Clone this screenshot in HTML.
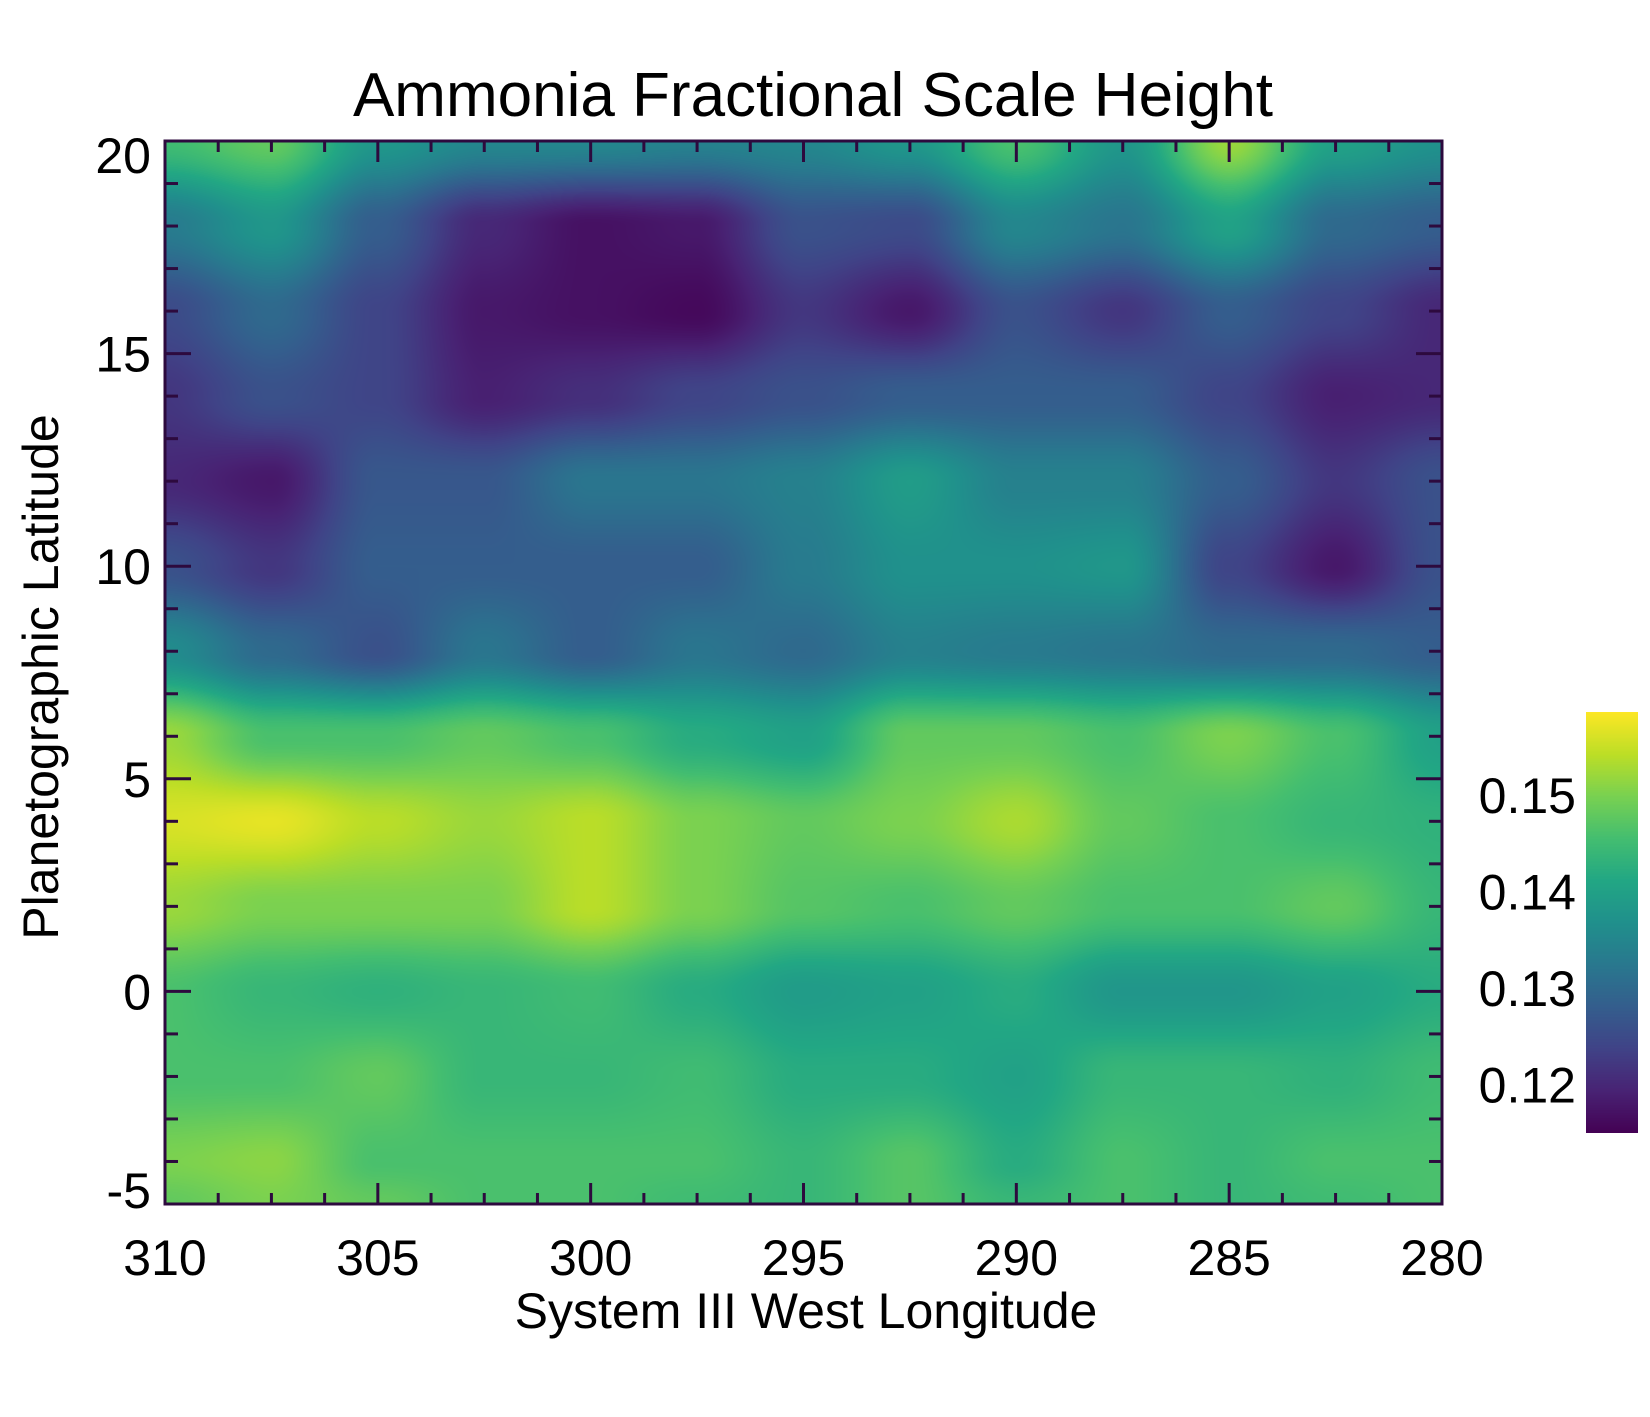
<!DOCTYPE html>
<html><head><meta charset="utf-8"><style>
html,body{margin:0;padding:0;background:#fff;width:1650px;height:1417px;overflow:hidden}
#wrap{position:relative;width:1650px;height:1417px}
canvas{position:absolute}
svg{position:absolute;left:0;top:0}
text{font-family:"Liberation Sans",sans-serif;fill:#000}
</style></head><body>
<div id="wrap">
<canvas id="heat"></canvas>
<canvas id="cbar"></canvas>
<svg id="ov" width="1650" height="1417"></svg>
</div>
<script>
const lons=[310,307.5,305,302.5,300,297.5,295,292.5,290,287.5,285,282.5,280];
const lats=[20,18,16,14,12,10,8,6,4,2,0,-2,-4,-5];
const row20=[.145,.148,.138,.135,.135,.134,.135,.138,.146,.138,.152,.140,.137];
const row18=[.133,.138,.128,.120,.117,.118,.126,.125,.135,.132,.140,.130,.128];
const row16=[.125,.130,.124,.118,.117,.116,.122,.118,.126,.122,.128,.124,.120];
const row14=[.122,.126,.124,.119,.121,.124,.126,.128,.128,.128,.124,.119,.120];
const row12=[.120,.118,.127,.127,.132,.132,.134,.139,.134,.134,.128,.122,.126];
const row10=[.126,.122,.128,.128,.128,.128,.133,.137,.137,.138,.124,.118,.126];
const row8=[.136,.130,.126,.132,.128,.132,.130,.134,.133,.132,.130,.130,.128];
const row6=[.152,.146,.146,.148,.146,.142,.140,.148,.148,.146,.150,.146,.140];
const row4=[.156,.157,.154,.152,.154,.150,.148,.150,.153,.148,.146,.144,.143];
const row2=[.152,.150,.150,.150,.154,.150,.147,.146,.148,.146,.146,.148,.144];
const row0=[.146,.144,.143,.144,.145,.142,.139,.140,.142,.138,.138,.140,.142];
const rowM2=[.146,.146,.148,.144,.144,.145,.142,.142,.140,.144,.144,.143,.145];
const rowM4=[.150,.151,.146,.146,.146,.146,.144,.147,.142,.146,.144,.146,.146];
const rowM5=[.148,.150,.148,.146,.146,.145,.144,.147,.144,.146,.144,.145,.146];
const grid=[row20,row18,row16,row14,row12,row10,row8,row6,row4,row2,row0,rowM2,rowM4,rowM5];
const xTicks=[310,305,300,295,290,285,280];
const yTicks=[20,15,10,5,0,-5];
const cTicks=[0.12,0.13,0.14,0.15];
const vmin=0.115, vmax=0.1586;

const L=165,R=1442,T=141,B=1204;
const xS=v=>L+(310-v)/(310-280)*(R-L);
const yS=v=>T+(20-v)/(20-(-5))*(B-T);
const CL=1586,CR=1638,CT=712,CB=1133;
const cS=v=>CB-(v-vmin)/(vmax-vmin)*(CB-CT);

const vir=[[68,1,84],[72,35,116],[64,67,135],[52,94,141],[41,120,142],[32,144,140],[34,167,132],[68,190,112],[121,209,81],[189,222,38],[253,231,37]];
function cmap(v){let t=(v-vmin)/(vmax-vmin);t=Math.max(0,Math.min(1,t))*(vir.length-1);
const i=Math.min(vir.length-2,Math.floor(t)),f=t-i;return vir[i].map((c,k)=>Math.round(c+(vir[i+1][k]-c)*f));}
function idx(arr,v){for(let i=0;i<arr.length-1;i++){const a=arr[i],b=arr[i+1];
if((v<=a&&v>=b)){return [i,(a-v)/(a-b)];}}return [arr.length-2,1];}
function sm(t){return t*t*(3-2*t);}

const hc=document.getElementById('heat');
const W=R-L,H=B-T;hc.width=W;hc.height=H;hc.style.left=L+'px';hc.style.top=T+'px';
const ctx=hc.getContext('2d');const img=ctx.createImageData(W,H);
for(let py=0;py<H;py++){const lat=20-(py+0.5)/H*25;const [j,fy0]=idx(lats,lat);const fy=sm(fy0);
for(let px=0;px<W;px++){const lon=310-(px+0.5)/W*30;const [i,fx0]=idx(lons,lon);const fx=sm(fx0);
const v=grid[j][i]*(1-fx)*(1-fy)+grid[j][i+1]*fx*(1-fy)+grid[j+1][i]*(1-fx)*fy+grid[j+1][i+1]*fx*fy;
const c=cmap(v);const o=(py*W+px)*4;img.data[o]=c[0];img.data[o+1]=c[1];img.data[o+2]=c[2];img.data[o+3]=255;}}
ctx.putImageData(img,0,0);

const cc=document.getElementById('cbar');cc.width=CR-CL;cc.height=CB-CT;cc.style.left=CL+'px';cc.style.top=CT+'px';
const c2=cc.getContext('2d');
for(let y=0;y<CB-CT;y++){const v=vmax-(y+0.5)/(CB-CT)*(vmax-vmin);const c=cmap(v);c2.fillStyle=`rgb(${c})`;c2.fillRect(0,y,CR-CL,1);}

const ns='http://www.w3.org/2000/svg';const ov=document.getElementById('ov');
function el(tag,at,txt){const e=document.createElementNS(ns,tag);for(const k in at)e.setAttribute(k,at[k]);if(txt!==undefined)e.textContent=txt;ov.appendChild(e);return e;}
const AX='#2d0a3e';
for(let v=310;v>=280;v-=1.25){const x=xS(v);const maj=Math.abs(v%5)<1e-6;const len=maj?21:11;
const t1=el('line',{x1:x,y1:T,x2:x,y2:T+len,stroke:AX,'stroke-width':3});


const t2=el('line',{x1:x,y1:B,x2:x,y2:B-len,stroke:AX,'stroke-width':3});

}
for(let v=20;v>=-5;v-=1){const y=yS(v);const maj=v%5===0;const len=maj?26:13;
const t1=el('line',{x1:L,y1:y,x2:L+len,y2:y,stroke:AX,'stroke-width':3});


const t2=el('line',{x1:R,y1:y,x2:R-len,y2:y,stroke:AX,'stroke-width':3});

}
const fr=el('rect',{x:L,y:T,width:R-L,height:B-T,fill:'none',stroke:AX,'stroke-width':3});


xTicks.forEach(v=>{const t=el('text',{x:xS(v),y:1275,'font-size':50,'text-anchor':'middle'},String(v));

});
yTicks.forEach(v=>{const off=v===20?32:(v===-5?4:18);const t=el('text',{x:151,y:yS(v)+off,'font-size':50,'text-anchor':'end'},String(v));

});
cTicks.forEach(v=>{const t=el('text',{x:1576,y:cS(v)+18,'font-size':50,'text-anchor':'end'},v.toFixed(2));

});
const ti=el('text',{x:813,y:116,'font-size':62,'text-anchor':'middle'},'Ammonia Fractional Scale Height');


const xt=el('text',{x:806,y:1328,'font-size':50,'text-anchor':'middle'},'System III West Longitude');


const yt=el('text',{x:0,y:0,'font-size':50,'text-anchor':'middle',transform:'translate(58,677) rotate(-90)'},'Planetographic Latitude');


</script>
</body></html>
